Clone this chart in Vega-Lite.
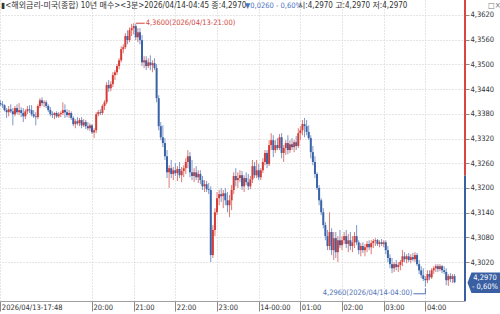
{
"$schema":"https://vega.github.io/schema/vega-lite/v6.json",
"width":465,"height":301,
"autosize":{"type":"none"},
"padding":{"left":0,"top":0,"right":35,"bottom":13},
"background":"#ffffff",
"config":{"view":{"stroke":null},"axis":{"labelFont":"'Liberation Sans Narrow','DejaVu Sans Condensed',sans-serif"},"text":{"font":"'Liberation Sans Narrow','DejaVu Sans Condensed','Noto Sans CJK KR',sans-serif"}},
"resolve":{"axis":{"x":"independent","y":"independent"}},
"data":{"values":[
{"t":"2026-04-13T17:48Z","o":4.3406,"h":4.3413,"l":4.3399,"c":4.3403},
{"t":"2026-04-13T17:51Z","o":4.3403,"h":4.3411,"l":4.3394,"c":4.3401},
{"t":"2026-04-13T17:54Z","o":4.3401,"h":4.3403,"l":4.3386,"c":4.3389},
{"t":"2026-04-13T17:57Z","o":4.3389,"h":4.3394,"l":4.3370,"c":4.3384},
{"t":"2026-04-13T18:00Z","o":4.3384,"h":4.3399,"l":4.3374,"c":4.3391},
{"t":"2026-04-13T18:03Z","o":4.3391,"h":4.3403,"l":4.3382,"c":4.3386},
{"t":"2026-04-13T18:06Z","o":4.3386,"h":4.3394,"l":4.3352,"c":4.3379},
{"t":"2026-04-13T18:09Z","o":4.3379,"h":4.3399,"l":4.3374,"c":4.3394},
{"t":"2026-04-13T18:12Z","o":4.3394,"h":4.3403,"l":4.3379,"c":4.3384},
{"t":"2026-04-13T18:15Z","o":4.3384,"h":4.3406,"l":4.3377,"c":4.3389},
{"t":"2026-04-13T18:18Z","o":4.3389,"h":4.3396,"l":4.3372,"c":4.3382},
{"t":"2026-04-13T18:21Z","o":4.3382,"h":4.3394,"l":4.3360,"c":4.3374},
{"t":"2026-04-13T18:24Z","o":4.3374,"h":4.3391,"l":4.3367,"c":4.3386},
{"t":"2026-04-13T18:27Z","o":4.3386,"h":4.3399,"l":4.3379,"c":4.3391},
{"t":"2026-04-13T18:30Z","o":4.3391,"h":4.3401,"l":4.3382,"c":4.3389},
{"t":"2026-04-13T18:33Z","o":4.3389,"h":4.3401,"l":4.3374,"c":4.3379},
{"t":"2026-04-13T18:36Z","o":4.3379,"h":4.3389,"l":4.3370,"c":4.3374},
{"t":"2026-04-13T18:39Z","o":4.3374,"h":4.3384,"l":4.3352,"c":4.3372},
{"t":"2026-04-13T18:42Z","o":4.3372,"h":4.3403,"l":4.3367,"c":4.3399},
{"t":"2026-04-13T18:45Z","o":4.3399,"h":4.3418,"l":4.3394,"c":4.3413},
{"t":"2026-04-13T18:48Z","o":4.3413,"h":4.3420,"l":4.3399,"c":4.3406},
{"t":"2026-04-13T18:51Z","o":4.3406,"h":4.3413,"l":4.3396,"c":4.3408},
{"t":"2026-04-13T18:54Z","o":4.3408,"h":4.3413,"l":4.3394,"c":4.3399},
{"t":"2026-04-13T18:57Z","o":4.3399,"h":4.3403,"l":4.3384,"c":4.3389},
{"t":"2026-04-13T19:00Z","o":4.3389,"h":4.3396,"l":4.3374,"c":4.3379},
{"t":"2026-04-13T19:03Z","o":4.3379,"h":4.3386,"l":4.3370,"c":4.3377},
{"t":"2026-04-13T19:06Z","o":4.3377,"h":4.3384,"l":4.3367,"c":4.3382},
{"t":"2026-04-13T19:09Z","o":4.3382,"h":4.3386,"l":4.3370,"c":4.3374},
{"t":"2026-04-13T19:12Z","o":4.3374,"h":4.3384,"l":4.3370,"c":4.3379},
{"t":"2026-04-13T19:15Z","o":4.3379,"h":4.3386,"l":4.3372,"c":4.3382},
{"t":"2026-04-13T19:18Z","o":4.3382,"h":4.3408,"l":4.3377,"c":4.3389},
{"t":"2026-04-13T19:21Z","o":4.3389,"h":4.3403,"l":4.3370,"c":4.3384},
{"t":"2026-04-13T19:24Z","o":4.3384,"h":4.3391,"l":4.3372,"c":4.3377},
{"t":"2026-04-13T19:27Z","o":4.3377,"h":4.3389,"l":4.3370,"c":4.3382},
{"t":"2026-04-13T19:30Z","o":4.3382,"h":4.3386,"l":4.3365,"c":4.3370},
{"t":"2026-04-13T19:33Z","o":4.3370,"h":4.3374,"l":4.3350,"c":4.3355},
{"t":"2026-04-13T19:36Z","o":4.3355,"h":4.3367,"l":4.3345,"c":4.3362},
{"t":"2026-04-13T19:39Z","o":4.3362,"h":4.3372,"l":4.3352,"c":4.3357},
{"t":"2026-04-13T19:42Z","o":4.3357,"h":4.3370,"l":4.3350,"c":4.3365},
{"t":"2026-04-13T19:45Z","o":4.3365,"h":4.3372,"l":4.3345,"c":4.3352},
{"t":"2026-04-13T19:48Z","o":4.3352,"h":4.3367,"l":4.3348,"c":4.3360},
{"t":"2026-04-13T19:51Z","o":4.3360,"h":4.3365,"l":4.3343,"c":4.3350},
{"t":"2026-04-13T19:54Z","o":4.3350,"h":4.3360,"l":4.3340,"c":4.3345},
{"t":"2026-04-13T19:57Z","o":4.3345,"h":4.3357,"l":4.3338,"c":4.3352},
{"t":"2026-04-13T20:00Z","o":4.3352,"h":4.3355,"l":4.3331,"c":4.3335},
{"t":"2026-04-13T20:03Z","o":4.3335,"h":4.3345,"l":4.3321,"c":4.3340},
{"t":"2026-04-13T20:06Z","o":4.3340,"h":4.3384,"l":4.3333,"c":4.3379},
{"t":"2026-04-13T20:09Z","o":4.3379,"h":4.3389,"l":4.3374,"c":4.3384},
{"t":"2026-04-13T20:12Z","o":4.3384,"h":4.3391,"l":4.3377,"c":4.3382},
{"t":"2026-04-13T20:15Z","o":4.3382,"h":4.3403,"l":4.3377,"c":4.3399},
{"t":"2026-04-13T20:18Z","o":4.3399,"h":4.3413,"l":4.3389,"c":4.3408},
{"t":"2026-04-13T20:21Z","o":4.3408,"h":4.3457,"l":4.3403,"c":4.3450},
{"t":"2026-04-13T20:24Z","o":4.3450,"h":4.3462,"l":4.3433,"c":4.3442},
{"t":"2026-04-13T20:27Z","o":4.3442,"h":4.3459,"l":4.3435,"c":4.3452},
{"t":"2026-04-13T20:30Z","o":4.3452,"h":4.3481,"l":4.3445,"c":4.3474},
{"t":"2026-04-13T20:33Z","o":4.3474,"h":4.3486,"l":4.3462,"c":4.3481},
{"t":"2026-04-13T20:36Z","o":4.3481,"h":4.3501,"l":4.3474,"c":4.3496},
{"t":"2026-04-13T20:39Z","o":4.3496,"h":4.3515,"l":4.3488,"c":4.3510},
{"t":"2026-04-13T20:42Z","o":4.3510,"h":4.3544,"l":4.3505,"c":4.3537},
{"t":"2026-04-13T20:45Z","o":4.3537,"h":4.3549,"l":4.3527,"c":4.3542},
{"t":"2026-04-13T20:48Z","o":4.3542,"h":4.3576,"l":4.3537,"c":4.3569},
{"t":"2026-04-13T20:51Z","o":4.3569,"h":4.3583,"l":4.3549,"c":4.3559},
{"t":"2026-04-13T20:54Z","o":4.3559,"h":4.3590,"l":4.3554,"c":4.3583},
{"t":"2026-04-13T20:57Z","o":4.3583,"h":4.3598,"l":4.3569,"c":4.3588},
{"t":"2026-04-13T21:00Z","o":4.3588,"h":4.3600,"l":4.3573,"c":4.3593},
{"t":"2026-04-13T21:03Z","o":4.3593,"h":4.3598,"l":4.3559,"c":4.3566},
{"t":"2026-04-13T21:06Z","o":4.3566,"h":4.3588,"l":4.3554,"c":4.3578},
{"t":"2026-04-13T21:09Z","o":4.3578,"h":4.3588,"l":4.3549,"c":4.3559},
{"t":"2026-04-13T21:12Z","o":4.3559,"h":4.3571,"l":4.3496,"c":4.3505},
{"t":"2026-04-13T21:15Z","o":4.3505,"h":4.3520,"l":4.3491,"c":4.3510},
{"t":"2026-04-13T21:18Z","o":4.3510,"h":4.3520,"l":4.3486,"c":4.3496},
{"t":"2026-04-13T21:21Z","o":4.3496,"h":4.3515,"l":4.3491,"c":4.3505},
{"t":"2026-04-13T21:24Z","o":4.3505,"h":4.3522,"l":4.3486,"c":4.3498},
{"t":"2026-04-13T21:27Z","o":4.3498,"h":4.3510,"l":4.3481,"c":4.3503},
{"t":"2026-04-13T21:30Z","o":4.3503,"h":4.3515,"l":4.3486,"c":4.3491},
{"t":"2026-04-13T21:33Z","o":4.3491,"h":4.3501,"l":4.3408,"c":4.3418},
{"t":"2026-04-13T21:36Z","o":4.3418,"h":4.3425,"l":4.3340,"c":4.3350},
{"t":"2026-04-13T21:39Z","o":4.3350,"h":4.3360,"l":4.3316,"c":4.3323},
{"t":"2026-04-13T21:42Z","o":4.3323,"h":4.3352,"l":4.3299,"c":4.3309},
{"t":"2026-04-13T21:45Z","o":4.3309,"h":4.3321,"l":4.3268,"c":4.3277},
{"t":"2026-04-13T21:48Z","o":4.3277,"h":4.3292,"l":4.3224,"c":4.3238},
{"t":"2026-04-13T21:51Z","o":4.3238,"h":4.3255,"l":4.3200,"c":4.3248},
{"t":"2026-04-13T21:54Z","o":4.3248,"h":4.3268,"l":4.3224,"c":4.3234},
{"t":"2026-04-13T21:57Z","o":4.3234,"h":4.3251,"l":4.3219,"c":4.3243},
{"t":"2026-04-13T22:00Z","o":4.3243,"h":4.3260,"l":4.3229,"c":4.3236},
{"t":"2026-04-13T22:03Z","o":4.3236,"h":4.3253,"l":4.3217,"c":4.3246},
{"t":"2026-04-13T22:06Z","o":4.3246,"h":4.3263,"l":4.3224,"c":4.3231},
{"t":"2026-04-13T22:09Z","o":4.3231,"h":4.3251,"l":4.3214,"c":4.3241},
{"t":"2026-04-13T22:12Z","o":4.3241,"h":4.3255,"l":4.3226,"c":4.3248},
{"t":"2026-04-13T22:15Z","o":4.3248,"h":4.3272,"l":4.3234,"c":4.3263},
{"t":"2026-04-13T22:18Z","o":4.3263,"h":4.3292,"l":4.3248,"c":4.3277},
{"t":"2026-04-13T22:21Z","o":4.3277,"h":4.3287,"l":4.3226,"c":4.3238},
{"t":"2026-04-13T22:24Z","o":4.3238,"h":4.3268,"l":4.3219,"c":4.3229},
{"t":"2026-04-13T22:27Z","o":4.3229,"h":4.3248,"l":4.3214,"c":4.3238},
{"t":"2026-04-13T22:30Z","o":4.3238,"h":4.3253,"l":4.3219,"c":4.3226},
{"t":"2026-04-13T22:33Z","o":4.3226,"h":4.3243,"l":4.3212,"c":4.3234},
{"t":"2026-04-13T22:36Z","o":4.3234,"h":4.3243,"l":4.3209,"c":4.3219},
{"t":"2026-04-13T22:39Z","o":4.3219,"h":4.3229,"l":4.3195,"c":4.3204},
{"t":"2026-04-13T22:42Z","o":4.3204,"h":4.3219,"l":4.3190,"c":4.3209},
{"t":"2026-04-13T22:45Z","o":4.3209,"h":4.3217,"l":4.3190,"c":4.3197},
{"t":"2026-04-13T22:48Z","o":4.3197,"h":4.3212,"l":4.3185,"c":4.3195},
{"t":"2026-04-13T22:51Z","o":4.3195,"h":4.3204,"l":4.3020,"c":4.3037},
{"t":"2026-04-13T22:54Z","o":4.3037,"h":4.3110,"l":4.3030,"c":4.3098},
{"t":"2026-04-13T22:57Z","o":4.3098,"h":4.3151,"l":4.3083,"c":4.3141},
{"t":"2026-04-13T23:00Z","o":4.3141,"h":4.3190,"l":4.3134,"c":4.3175},
{"t":"2026-04-13T23:03Z","o":4.3175,"h":4.3195,"l":4.3158,"c":4.3185},
{"t":"2026-04-13T23:06Z","o":4.3185,"h":4.3200,"l":4.3166,"c":4.3180},
{"t":"2026-04-13T23:09Z","o":4.3180,"h":4.3195,"l":4.3151,"c":4.3187},
{"t":"2026-04-13T23:12Z","o":4.3187,"h":4.3200,"l":4.3158,"c":4.3170},
{"t":"2026-04-13T23:15Z","o":4.3170,"h":4.3190,"l":4.3141,"c":4.3158},
{"t":"2026-04-13T23:18Z","o":4.3158,"h":4.3183,"l":4.3129,"c":4.3170},
{"t":"2026-04-13T23:21Z","o":4.3170,"h":4.3207,"l":4.3146,"c":4.3195},
{"t":"2026-04-13T23:24Z","o":4.3195,"h":4.3238,"l":4.3185,"c":4.3229},
{"t":"2026-04-13T23:27Z","o":4.3229,"h":4.3248,"l":4.3204,"c":4.3219},
{"t":"2026-04-13T23:30Z","o":4.3219,"h":4.3238,"l":4.3200,"c":4.3224},
{"t":"2026-04-13T23:33Z","o":4.3224,"h":4.3243,"l":4.3214,"c":4.3231},
{"t":"2026-04-13T23:36Z","o":4.3231,"h":4.3241,"l":4.3195,"c":4.3204},
{"t":"2026-04-13T23:39Z","o":4.3204,"h":4.3231,"l":4.3190,"c":4.3224},
{"t":"2026-04-13T23:42Z","o":4.3224,"h":4.3238,"l":4.3207,"c":4.3214},
{"t":"2026-04-13T23:45Z","o":4.3214,"h":4.3234,"l":4.3195,"c":4.3204},
{"t":"2026-04-13T23:48Z","o":4.3204,"h":4.3229,"l":4.3197,"c":4.3221},
{"t":"2026-04-13T23:51Z","o":4.3221,"h":4.3268,"l":4.3212,"c":4.3253},
{"t":"2026-04-13T23:54Z","o":4.3253,"h":4.3263,"l":4.3224,"c":4.3231},
{"t":"2026-04-13T23:57Z","o":4.3231,"h":4.3268,"l":4.3224,"c":4.3243},
{"t":"2026-04-14T00:00Z","o":4.3243,"h":4.3258,"l":4.3219,"c":4.3226},
{"t":"2026-04-14T00:03Z","o":4.3226,"h":4.3248,"l":4.3219,"c":4.3243},
{"t":"2026-04-14T00:06Z","o":4.3243,"h":4.3272,"l":4.3236,"c":4.3263},
{"t":"2026-04-14T00:09Z","o":4.3263,"h":4.3292,"l":4.3255,"c":4.3285},
{"t":"2026-04-14T00:12Z","o":4.3285,"h":4.3292,"l":4.3248,"c":4.3258},
{"t":"2026-04-14T00:15Z","o":4.3258,"h":4.3316,"l":4.3253,"c":4.3304},
{"t":"2026-04-14T00:18Z","o":4.3304,"h":4.3333,"l":4.3292,"c":4.3316},
{"t":"2026-04-14T00:21Z","o":4.3316,"h":4.3328,"l":4.3275,"c":4.3292},
{"t":"2026-04-14T00:24Z","o":4.3292,"h":4.3316,"l":4.3285,"c":4.3304},
{"t":"2026-04-14T00:27Z","o":4.3304,"h":4.3321,"l":4.3292,"c":4.3297},
{"t":"2026-04-14T00:30Z","o":4.3297,"h":4.3331,"l":4.3292,"c":4.3323},
{"t":"2026-04-14T00:33Z","o":4.3323,"h":4.3333,"l":4.3272,"c":4.3285},
{"t":"2026-04-14T00:36Z","o":4.3285,"h":4.3304,"l":4.3263,"c":4.3297},
{"t":"2026-04-14T00:39Z","o":4.3297,"h":4.3316,"l":4.3280,"c":4.3309},
{"t":"2026-04-14T00:42Z","o":4.3309,"h":4.3328,"l":4.3282,"c":4.3292},
{"t":"2026-04-14T00:45Z","o":4.3292,"h":4.3316,"l":4.3285,"c":4.3306},
{"t":"2026-04-14T00:48Z","o":4.3306,"h":4.3321,"l":4.3292,"c":4.3299},
{"t":"2026-04-14T00:51Z","o":4.3299,"h":4.3316,"l":4.3287,"c":4.3311},
{"t":"2026-04-14T00:54Z","o":4.3311,"h":4.3326,"l":4.3292,"c":4.3302},
{"t":"2026-04-14T00:57Z","o":4.3302,"h":4.3345,"l":4.3297,"c":4.3333},
{"t":"2026-04-14T01:00Z","o":4.3333,"h":4.3350,"l":4.3316,"c":4.3340},
{"t":"2026-04-14T01:03Z","o":4.3340,"h":4.3365,"l":4.3328,"c":4.3355},
{"t":"2026-04-14T01:06Z","o":4.3355,"h":4.3370,"l":4.3323,"c":4.3350},
{"t":"2026-04-14T01:09Z","o":4.3350,"h":4.3365,"l":4.3328,"c":4.3336},
{"t":"2026-04-14T01:12Z","o":4.3336,"h":4.3352,"l":4.3316,"c":4.3321},
{"t":"2026-04-14T01:15Z","o":4.3321,"h":4.3328,"l":4.3272,"c":4.3287},
{"t":"2026-04-14T01:18Z","o":4.3287,"h":4.3302,"l":4.3255,"c":4.3263},
{"t":"2026-04-14T01:21Z","o":4.3263,"h":4.3277,"l":4.3224,"c":4.3234},
{"t":"2026-04-14T01:24Z","o":4.3234,"h":4.3238,"l":4.3195,"c":4.3200},
{"t":"2026-04-14T01:27Z","o":4.3200,"h":4.3207,"l":4.3158,"c":4.3170},
{"t":"2026-04-14T01:30Z","o":4.3170,"h":4.3175,"l":4.3134,"c":4.3141},
{"t":"2026-04-14T01:33Z","o":4.3141,"h":4.3151,"l":4.3102,"c":4.3110},
{"t":"2026-04-14T01:36Z","o":4.3110,"h":4.3117,"l":4.3073,"c":4.3083},
{"t":"2026-04-14T01:39Z","o":4.3083,"h":4.3098,"l":4.3049,"c":4.3059},
{"t":"2026-04-14T01:42Z","o":4.3059,"h":4.3141,"l":4.3049,"c":4.3093},
{"t":"2026-04-14T01:45Z","o":4.3093,"h":4.3102,"l":4.3037,"c":4.3049},
{"t":"2026-04-14T01:48Z","o":4.3049,"h":4.3093,"l":4.3025,"c":4.3078},
{"t":"2026-04-14T01:51Z","o":4.3078,"h":4.3093,"l":4.3030,"c":4.3044},
{"t":"2026-04-14T01:54Z","o":4.3044,"h":4.3083,"l":4.3020,"c":4.3073},
{"t":"2026-04-14T01:57Z","o":4.3073,"h":4.3098,"l":4.3054,"c":4.3061},
{"t":"2026-04-14T02:00Z","o":4.3061,"h":4.3083,"l":4.3049,"c":4.3073},
{"t":"2026-04-14T02:03Z","o":4.3073,"h":4.3093,"l":4.3064,"c":4.3083},
{"t":"2026-04-14T02:06Z","o":4.3083,"h":4.3098,"l":4.3054,"c":4.3064},
{"t":"2026-04-14T02:09Z","o":4.3064,"h":4.3088,"l":4.3044,"c":4.3073},
{"t":"2026-04-14T02:12Z","o":4.3073,"h":4.3093,"l":4.3049,"c":4.3059},
{"t":"2026-04-14T02:15Z","o":4.3059,"h":4.3083,"l":4.3044,"c":4.3068},
{"t":"2026-04-14T02:18Z","o":4.3068,"h":4.3093,"l":4.3054,"c":4.3083},
{"t":"2026-04-14T02:21Z","o":4.3083,"h":4.3110,"l":4.3061,"c":4.3068},
{"t":"2026-04-14T02:24Z","o":4.3068,"h":4.3073,"l":4.3039,"c":4.3049},
{"t":"2026-04-14T02:27Z","o":4.3049,"h":4.3066,"l":4.3034,"c":4.3059},
{"t":"2026-04-14T02:30Z","o":4.3059,"h":4.3068,"l":4.3042,"c":4.3049},
{"t":"2026-04-14T02:33Z","o":4.3049,"h":4.3064,"l":4.3034,"c":4.3056},
{"t":"2026-04-14T02:36Z","o":4.3056,"h":4.3071,"l":4.3044,"c":4.3064},
{"t":"2026-04-14T02:39Z","o":4.3064,"h":4.3073,"l":4.3049,"c":4.3056},
{"t":"2026-04-14T02:42Z","o":4.3056,"h":4.3073,"l":4.3039,"c":4.3066},
{"t":"2026-04-14T02:45Z","o":4.3066,"h":4.3076,"l":4.3054,"c":4.3071},
{"t":"2026-04-14T02:48Z","o":4.3071,"h":4.3078,"l":4.3059,"c":4.3073},
{"t":"2026-04-14T02:51Z","o":4.3073,"h":4.3076,"l":4.3059,"c":4.3064},
{"t":"2026-04-14T02:54Z","o":4.3064,"h":4.3073,"l":4.3056,"c":4.3068},
{"t":"2026-04-14T02:57Z","o":4.3068,"h":4.3076,"l":4.3059,"c":4.3064},
{"t":"2026-04-14T03:00Z","o":4.3064,"h":4.3073,"l":4.3056,"c":4.3068},
{"t":"2026-04-14T03:03Z","o":4.3068,"h":4.3073,"l":4.3039,"c":4.3049},
{"t":"2026-04-14T03:06Z","o":4.3049,"h":4.3059,"l":4.3020,"c":4.3030},
{"t":"2026-04-14T03:09Z","o":4.3030,"h":4.3039,"l":4.3005,"c":4.3015},
{"t":"2026-04-14T03:12Z","o":4.3015,"h":4.3030,"l":4.2993,"c":4.3005},
{"t":"2026-04-14T03:15Z","o":4.3005,"h":4.3020,"l":4.2996,"c":4.3015},
{"t":"2026-04-14T03:18Z","o":4.3015,"h":4.3025,"l":4.3000,"c":4.3008},
{"t":"2026-04-14T03:21Z","o":4.3008,"h":4.3020,"l":4.2996,"c":4.3013},
{"t":"2026-04-14T03:24Z","o":4.3013,"h":4.3025,"l":4.3000,"c":4.3020},
{"t":"2026-04-14T03:27Z","o":4.3020,"h":4.3049,"l":4.3010,"c":4.3034},
{"t":"2026-04-14T03:30Z","o":4.3034,"h":4.3044,"l":4.3020,"c":4.3027},
{"t":"2026-04-14T03:33Z","o":4.3027,"h":4.3039,"l":4.3017,"c":4.3034},
{"t":"2026-04-14T03:36Z","o":4.3034,"h":4.3042,"l":4.3020,"c":4.3025},
{"t":"2026-04-14T03:39Z","o":4.3025,"h":4.3039,"l":4.3017,"c":4.3032},
{"t":"2026-04-14T03:42Z","o":4.3032,"h":4.3042,"l":4.3022,"c":4.3027},
{"t":"2026-04-14T03:45Z","o":4.3027,"h":4.3044,"l":4.3020,"c":4.3037},
{"t":"2026-04-14T03:48Z","o":4.3037,"h":4.3042,"l":4.3010,"c":4.3015},
{"t":"2026-04-14T03:51Z","o":4.3015,"h":4.3025,"l":4.2991,"c":4.3000},
{"t":"2026-04-14T03:54Z","o":4.3000,"h":4.3010,"l":4.2981,"c":4.2988},
{"t":"2026-04-14T03:57Z","o":4.2988,"h":4.3005,"l":4.2974,"c":4.2979},
{"t":"2026-04-14T04:00Z","o":4.2979,"h":4.2986,"l":4.2960,"c":4.2976},
{"t":"2026-04-14T04:03Z","o":4.2976,"h":4.3000,"l":4.2969,"c":4.2991},
{"t":"2026-04-14T04:06Z","o":4.2991,"h":4.3000,"l":4.2976,"c":4.2983},
{"t":"2026-04-14T04:09Z","o":4.2983,"h":4.3005,"l":4.2979,"c":4.3000},
{"t":"2026-04-14T04:12Z","o":4.3000,"h":4.3010,"l":4.2991,"c":4.3005},
{"t":"2026-04-14T04:15Z","o":4.3005,"h":4.3015,"l":4.2996,"c":4.3010},
{"t":"2026-04-14T04:18Z","o":4.3010,"h":4.3015,"l":4.2996,"c":4.3003},
{"t":"2026-04-14T04:21Z","o":4.3003,"h":4.3015,"l":4.2998,"c":4.3010},
{"t":"2026-04-14T04:24Z","o":4.3010,"h":4.3013,"l":4.2993,"c":4.3000},
{"t":"2026-04-14T04:27Z","o":4.3000,"h":4.3010,"l":4.2991,"c":4.2996},
{"t":"2026-04-14T04:30Z","o":4.2996,"h":4.3005,"l":4.2964,"c":4.2976},
{"t":"2026-04-14T04:33Z","o":4.2976,"h":4.2991,"l":4.2962,"c":4.2986},
{"t":"2026-04-14T04:36Z","o":4.2986,"h":4.2993,"l":4.2971,"c":4.2979},
{"t":"2026-04-14T04:39Z","o":4.2979,"h":4.2991,"l":4.2969,"c":4.2986},
{"t":"2026-04-14T04:42Z","o":4.2986,"h":4.2991,"l":4.2969,"c":4.2971},
{"t":"2026-04-14T04:45Z","o":4.2970,"h":4.2970,"l":4.2970,"c":4.2970}
]},
"layer":[
{"mark":{"type":"rule","strokeWidth":1},
 "encoding":{
  "x":{"field":"t","type":"temporal",
   "scale":{"type":"utc","nice":false,"padding":0,"domain":[{"year":2026,"month":4,"date":13,"hours":17,"minutes":47,"seconds":30,"utc":true},{"year":2026,"month":4,"date":14,"hours":4,"minutes":57,"seconds":3,"utc":true}]},
   "axis":{"values":[{"year":2026,"month":4,"date":13,"hours":17,"minutes":48,"utc":true},{"year":2026,"month":4,"date":13,"hours":20,"utc":true},{"year":2026,"month":4,"date":13,"hours":21,"utc":true},{"year":2026,"month":4,"date":13,"hours":22,"utc":true},{"year":2026,"month":4,"date":13,"hours":23,"utc":true},{"year":2026,"month":4,"date":14,"hours":0,"utc":true},{"year":2026,"month":4,"date":14,"hours":1,"utc":true},{"year":2026,"month":4,"date":14,"hours":2,"utc":true},{"year":2026,"month":4,"date":14,"hours":3,"utc":true},{"year":2026,"month":4,"date":14,"hours":4,"utc":true}],
    "labelExpr":"utcFormat(datum.value,'%H:%M')=='17:48' ? utcFormat(datum.value,'%Y/%m/%d-%H:%M') : (utcFormat(datum.value,'%H')=='00' ? utcFormat(datum.value,'%d-%H:%M') : utcFormat(datum.value,'%H:%M'))",
    "title":null,"domainColor":"#a0a0a0","domainWidth":1,"tickSize":10,"tickColor":"#8a8a8a","labelAlign":"left","labelBaseline":"top","labelPadding":-8,"labelOffset":1,"labelFontSize":7.5,"labelColor":"#333333","labelOverlap":false,"labelFlush":false,"labelBound":false,"grid":true,"gridColor":"#cccccc","gridDash":[1,2]}},
  "y":{"field":"l","type":"quantitative",
   "scale":{"domain":[4.29255,4.36564],"zero":false,"nice":false},
   "axis":{"orient":"right","values":[4.302,4.308,4.314,4.32,4.326,4.332,4.338,4.344,4.35,4.356,4.362],"labelExpr":"replace(format(datum.value,'.4f'),'.',',')","title":null,"domain":false,"tickSize":4,"tickColor":"#8a8a8a","labelPadding":1,"labelFontSize":7.5,"labelColor":"#333333","labelBaseline":"middle","labelOverlap":false,"labelBound":false,"grid":true,"gridColor":"#cccccc","gridDash":[1,2]}},
  "y2":{"field":"h"},
  "color":{"condition":{"test":"datum.c < datum.o","value":"#7d98c8"},"value":"#e07a74"}
 }},
{"mark":{"type":"bar","size":2},
 "encoding":{
  "x":{"field":"t","type":"temporal","axis":null},
  "y":{"field":"o","type":"quantitative","axis":null},
  "y2":{"field":"c"},
  "color":{"condition":{"test":"datum.c < datum.o","value":"#3a62a8"},"value":"#d63c35"}
 }},
{"data":{"values":[{"t":"2026-04-13T21:00Z","v":4.36,"label":"4,3600(2026/04/13-21:00)"}]},
 "layer":[
  {"mark":{"type":"rule","color":"#d2473f","strokeWidth":1,"xOffset":2,"x2Offset":11},"encoding":{"x":{"field":"t","type":"temporal","axis":null},"x2":{"field":"t"},"y":{"field":"v","type":"quantitative","axis":null}}},
  {"mark":{"type":"text","align":"left","baseline":"middle","dx":12,"fontSize":7.5,"color":"#d2473f"},"encoding":{"x":{"field":"t","type":"temporal","axis":null},"y":{"field":"v","type":"quantitative","axis":null},"text":{"field":"label"}}}
 ]},
{"data":{"values":[{"t":"2026-04-14T04:00Z","v":4.296,"label":"4,2960(2026/04/14-04:00)"}]},
 "layer":[
  {"mark":{"type":"rule","color":"#4f73b5","strokeWidth":1,"xOffset":-12,"yOffset":7},"encoding":{"x":{"field":"t","type":"temporal","axis":null},"x2":{"field":"t"},"y":{"field":"v","type":"quantitative","axis":null}}},
  {"mark":{"type":"rule","color":"#4f73b5","strokeWidth":1,"yOffset":1.5,"y2Offset":7},"encoding":{"x":{"field":"t","type":"temporal","axis":null},"y":{"field":"v","type":"quantitative","axis":null},"y2":{"field":"v"}}},
  {"mark":{"type":"text","align":"right","baseline":"middle","dx":-13,"dy":6.5,"fontSize":7.5,"color":"#4f73b5"},"encoding":{"x":{"field":"t","type":"temporal","axis":null},"y":{"field":"v","type":"quantitative","axis":null},"text":{"field":"label"}}}
 ]},
{"data":{"values":[{"prev":4.323}]},
 "layer":[
  {"mark":{"type":"rule","strokeWidth":2,"color":"#d9463f","clip":false},"encoding":{"x":{"datum":{"year":2026,"month":4,"date":14,"hours":4,"minutes":57,"seconds":3,"utc":true},"type":"temporal","axis":null},"y":{"field":"prev","type":"quantitative","axis":null},"y2":{"value":0}}},
  {"mark":{"type":"rule","strokeWidth":2,"color":"#3b5fa3","clip":false},"encoding":{"x":{"datum":{"year":2026,"month":4,"date":14,"hours":4,"minutes":57,"seconds":3,"utc":true},"type":"temporal","axis":null},"y":{"field":"prev","type":"quantitative","axis":null},"y2":{"value":"height"}}}
 ]},
{"data":{"values":[{"v":4.297,"label":["4,2970","- 0,60%"]}]},
 "layer":[
  {"mark":{"type":"point","shape":"M-1,0L-0.76,-0.62L1,-0.62L1,0.62L-0.76,0.62Z","size":1089,"filled":true,"opacity":1,"color":"#3b5fa3","xOffset":19,"clip":false},"encoding":{"x":{"datum":{"year":2026,"month":4,"date":14,"hours":4,"minutes":57,"seconds":3,"utc":true},"type":"temporal","axis":null},"y":{"field":"v","type":"quantitative","axis":null}}},
  {"mark":{"type":"text","align":"center","baseline":"middle","dx":20,"dy":-4.5,"fontSize":7.5,"lineHeight":9,"color":"#ffffff","clip":false},"encoding":{"x":{"datum":{"year":2026,"month":4,"date":14,"hours":4,"minutes":57,"seconds":3,"utc":true},"type":"temporal","axis":null},"y":{"field":"v","type":"quantitative","axis":null},"text":{"field":"label"}}}
 ]},
{"data":{"values":[{}]},
 "layer":[
  {"mark":{"type":"text","align":"left","baseline":"middle","dx":1,"fontSize":8,"color":"#333333","clip":false},"encoding":{"x":{"datum":{"year":2026,"month":4,"date":13,"hours":17,"minutes":48,"utc":true},"type":"temporal","axis":null},"y":{"datum":4.3642,"type":"quantitative","axis":null},"text":{"value":"▮<해외금리-미국(종합) 10년 매수><3분>2026/04/14-04:45 종:4,2970"}}},
  {"mark":{"type":"text","align":"left","baseline":"middle","fontSize":7.5,"color":"#4a72c0","clip":false},"encoding":{"x":{"datum":{"year":2026,"month":4,"date":13,"hours":23,"minutes":40,"seconds":17,"utc":true},"type":"temporal","axis":null},"y":{"datum":4.3642,"type":"quantitative","axis":null},"text":{"value":"▼0,0260 - 0,60%"}}},
  {"mark":{"type":"text","align":"left","baseline":"middle","fontSize":8,"color":"#333333","clip":false},"encoding":{"x":{"datum":{"year":2026,"month":4,"date":14,"hours":0,"minutes":56,"seconds":34,"utc":true},"type":"temporal","axis":null},"y":{"datum":4.3642,"type":"quantitative","axis":null},"text":{"value":"시:4,2970 고:4,2970 저:4,2970"}}},
  {"mark":{"type":"text","align":"left","baseline":"middle","dx":23,"fontSize":8,"color":"#777777","clip":false},"encoding":{"x":{"datum":{"year":2026,"month":4,"date":14,"hours":4,"minutes":57,"seconds":3,"utc":true},"type":"temporal","axis":null},"y":{"datum":4.3642,"type":"quantitative","axis":null},"text":{"value":"□×"}}}
 ]}
]
}
